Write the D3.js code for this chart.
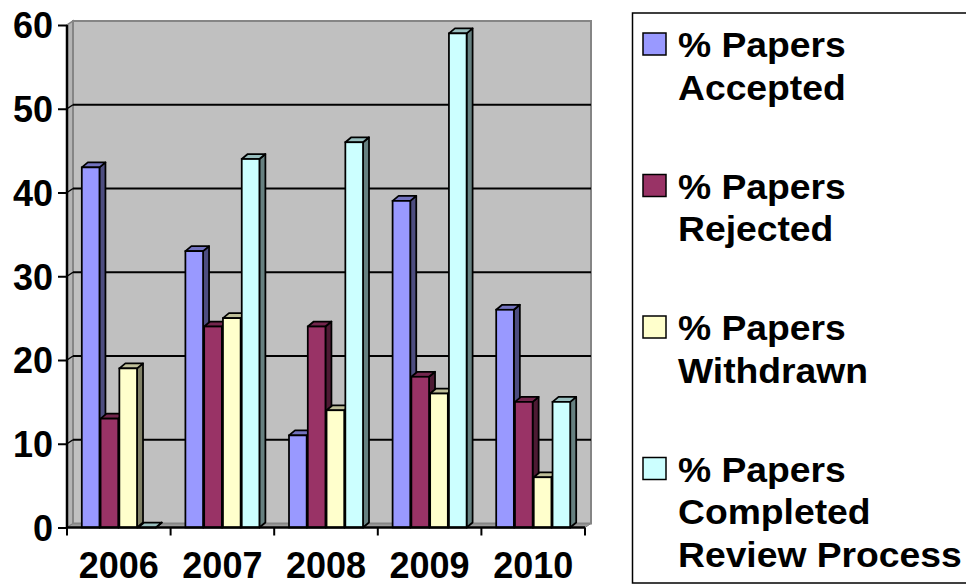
<!DOCTYPE html>
<html>
<head>
<meta charset="utf-8">
<script src="https://cdn.jsdelivr.net/npm/d3@7/dist/d3.min.js"></script>
<style>
  html, body { margin: 0; padding: 0; background: #ffffff; }
  svg { display: block; }
  text { font-family: "Liberation Sans", Arial, sans-serif; font-weight: bold; fill: #000; }
</style>
</head>
<body>
<svg id="chart" width="966" height="586"></svg>
<script>
// ---- data ----
const years = ["2006", "2007", "2008", "2009", "2010"];
const seriesNames = ["Accepted", "Rejected", "Withdrawn", "Completed"];
const accepted  = [43, 33, 11, 39, 26];
const rejected  = [13, 24, 24, 18, 15];
const withdrawn = [19, 25, 14, 16, 6];
const completed = [0, 44, 46, 59, 15];
const yTicks = [0, 10, 20, 30, 40, 50, 60];
const legendLines = [
  ["% Papers", "Accepted"],
  ["% Papers", "Rejected"],
  ["% Papers", "Withdrawn"],
  ["% Papers", "Completed", "Review Process"]
];
const colors = ["#9999FF", "#993366", "#FFFFCC", "#CCFFFF"];

const seriesValues = [accepted, rejected, withdrawn, completed];

// ---- layout ----
const svg = d3.select("#chart");
const X0 = 67, X1 = 585, Y0 = 527.5, Y1 = 25;
const wallDX = 6, wallDY = 4;
const barDX = 6, barDY = 5;

const x = d3.scaleBand().domain(years).range([X0, X1]).padding(0);
const groupW = 74;
const xs = d3.scaleBand().domain(seriesNames)
  .range([(x.bandwidth() - groupW) / 2, (x.bandwidth() + groupW) / 2])
  .paddingInner(0.06).paddingOuter(0);
const y = d3.scaleLinear().domain([0, 60]).range([Y0, Y1]);

// ---- walls ----
svg.append("path")
  .attr("d", `M${X0},${Y0} L${X0},${Y1} L${X0 + wallDX},${Y1 - wallDY} L${X0 + wallDX},${Y0 - wallDY} Z`)
  .attr("fill", "#B4B4B4").attr("stroke", "#808080").attr("stroke-width", 1.5);
svg.append("path")
  .attr("d", `M${X0},${Y0} L${X0 + wallDX},${Y0 - wallDY} L${X1 + wallDX},${Y0 - wallDY} L${X1},${Y0} Z`)
  .attr("fill", "#9C9C9C").attr("stroke", "#808080").attr("stroke-width", 1);
svg.append("rect")
  .attr("x", X0 + wallDX).attr("y", Y1 - wallDY)
  .attr("width", X1 - X0).attr("height", Y0 - Y1)
  .attr("fill", "#C0C0C0").attr("stroke", "#858585").attr("stroke-width", 2);

const grid = svg.append("g");
yTicks.filter(t => t > 0 && t < 60).forEach(t => {
  grid.append("line")
    .attr("x1", X0 + wallDX).attr("x2", X1 + wallDX)
    .attr("y1", y(t) - wallDY).attr("y2", y(t) - wallDY)
    .attr("stroke", "#000").attr("stroke-width", 2);
  grid.append("line")
    .attr("x1", X0).attr("x2", X0 + wallDX)
    .attr("y1", y(t)).attr("y2", y(t) - wallDY)
    .attr("stroke", "#000").attr("stroke-width", 1.5);
});

// ---- bars ----
function shade(c, k) {
  const r = d3.rgb(c);
  return d3.rgb(r.r * k, r.g * k, r.b * k).formatHex();
}
const barsG = svg.append("g");
years.forEach((yr, i) => {
  seriesNames.forEach((s, j) => {
    const v = seriesValues[j][i];
    const bx = x(yr) + xs(s);
    const bw = xs.bandwidth();
    const top = y(v), bot = y(0);
    const col = colors[j];
    barsG.append("path")
      .attr("d", `M${bx + bw},${bot} L${bx + bw},${top} L${bx + bw + barDX},${top - barDY} L${bx + bw + barDX},${bot - barDY} Z`)
      .attr("fill", shade(col, 0.5)).attr("stroke", "#000").attr("stroke-width", 1.75).attr("stroke-linejoin", "round");
    barsG.append("path")
      .attr("d", `M${bx},${top} L${bx + barDX},${top - barDY} L${bx + bw + barDX},${top - barDY} L${bx + bw},${top} Z`)
      .attr("fill", shade(col, 0.75)).attr("stroke", "#000").attr("stroke-width", 1.75).attr("stroke-linejoin", "round");
    if (v > 0) {
      barsG.append("rect")
        .attr("x", bx).attr("y", top).attr("width", bw).attr("height", bot - top)
        .attr("fill", col).attr("stroke", "#000").attr("stroke-width", 1.75);
    }
  });
});

// ---- axes ----
const yAxis = d3.axisLeft(y).tickValues(yTicks).tickSize(9).tickPadding(5).tickFormat(d3.format("d"));
const gy = svg.append("g").attr("transform", `translate(${X0},0)`).call(yAxis);
gy.select(".domain").attr("stroke", "#000").attr("stroke-width", 2.5).attr("d", `M0,${Y1}V${Y0}`);
gy.selectAll(".tick line").attr("stroke", "#000").attr("stroke-width", 2);
gy.selectAll(".tick text").style("font-size", "36px").style("font-family", '"Liberation Sans", Arial, sans-serif')
  .style("font-weight", "bold").attr("dy", "0.36em").attr("fill", "#000");

const xAxis = d3.axisBottom(x).tickSize(0).tickPadding(0);
const gx = svg.append("g").attr("transform", `translate(0,${Y0})`).call(xAxis);
gx.select(".domain").attr("stroke", "#000").attr("stroke-width", 2.5).attr("d", `M${X0},0H${X1}`);
gx.selectAll(".tick text").style("font-size", "36px").style("font-family", '"Liberation Sans", Arial, sans-serif')
  .style("font-weight", "bold").attr("y", 50.5).attr("dy", 0).attr("fill", "#000");
const bounds = years.map(yr => x(yr)).concat([X1]);
gx.selectAll(".bound").data(bounds).enter().append("line")
  .attr("x1", d => d).attr("x2", d => d).attr("y1", 0).attr("y2", 8)
  .attr("stroke", "#000").attr("stroke-width", 2);

// ---- legend ----
const lg = svg.append("g");
lg.append("rect").attr("x", 632.5).attr("y", 13).attr("width", 400).attr("height", 570)
  .attr("fill", "#fff").attr("stroke", "#000").attr("stroke-width", 1.5);
const entryStep = 141.5, lineStep = 42.5, firstBase = 57;
legendLines.forEach((lines, j) => {
  const base = firstBase + j * entryStep;
  lg.append("rect").attr("x", 643).attr("y", base - 24).attr("width", 23).attr("height", 22)
    .attr("fill", colors[j]).attr("stroke", "#000").attr("stroke-width", 1.5);
  lines.forEach((t, k) => {
    lg.append("text")
      .attr("transform", `translate(678,${base + k * lineStep}) scale(1.065,1)`)
      .style("font-size", "35px").text(t);
  });
});
</script>
</body>
</html>
